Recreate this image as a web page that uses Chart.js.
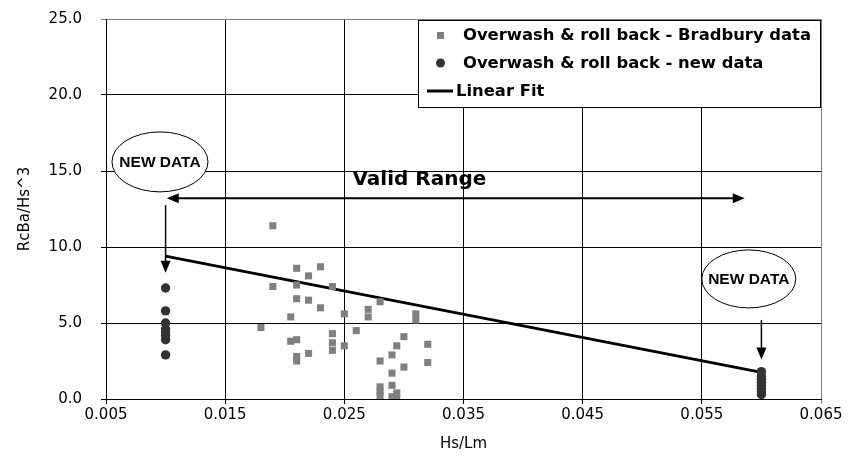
<!DOCTYPE html>
<html lang="en">
<head>
    <meta charset="UTF-8">
    <title>RcBa/Hs^3 vs Hs/Lm</title>
    <style>
        body { margin: 0; padding: 0; background: #fff; }
        .chart-box { width: 849px; height: 470px; position: relative; }
    </style>
</head>
<body>

<div class="chart-box">
  <canvas id="chart"></canvas>
</div>

<script src="https://cdn.jsdelivr.net/npm/chart.js"></script>

<script>
    // Bradbury data (squares)
    const bradX = [0.019, 0.021, 0.023, 0.022, 0.019, 0.021, 0.024, 0.021, 0.022, 0.023,
                   0.0205, 0.025, 0.027, 0.027, 0.028, 0.031, 0.031, 0.018, 0.0205, 0.021,
                   0.024, 0.024, 0.024, 0.025, 0.026, 0.021, 0.021, 0.022, 0.030, 0.0294,
                   0.029, 0.032, 0.032, 0.028, 0.030, 0.029, 0.029, 0.028, 0.028, 0.028,
                   0.029, 0.0294, 0.0294];
    const bradY = [11.4, 8.6, 8.7, 8.1, 7.4, 7.5, 7.4, 6.6, 6.5, 6.0,
                   5.4, 5.6, 5.9, 5.4, 6.4, 5.6, 5.2, 4.7, 3.8, 3.9,
                   4.3, 3.7, 3.2, 3.5, 4.5, 2.8, 2.5, 3.0, 4.1, 3.5,
                   2.9, 3.6, 2.4, 2.5, 2.1, 1.7, 0.9, 0.8, 0.5, 0.2,
                   0.15, 0.4, 0.05];

    // new data (circles)
    const newX = [0.010, 0.010, 0.010, 0.010, 0.010, 0.010, 0.010, 0.010,
                  0.060, 0.060, 0.060, 0.060, 0.060, 0.060, 0.060, 0.060];
    const newY = [7.3, 5.8, 5.0, 4.6, 4.4, 4.2, 3.9, 2.9,
                  1.8, 1.5, 1.3, 1.1, 0.9, 0.7, 0.5, 0.3];

    // linear fit
    const fitX = [0.010, 0.060];
    const fitY = [9.4, 1.75];

    const xTicks = [0.005, 0.015, 0.025, 0.035, 0.045, 0.055, 0.065];
    const yTicks = [0, 5, 10, 15, 20, 25];

    const legendLabels = ['Overwash & roll back - Bradbury data',
                          'Overwash & roll back - new data',
                          'Linear Fit'];

    const toPts = (xs, ys) => xs.map((x, i) => ({x: x, y: ys[i]}));

    function arrowHead(ctx, x, y, dir) {
        // dir: 'l','r','d'
        ctx.beginPath();
        if (dir === 'l') { ctx.moveTo(x, y); ctx.lineTo(x + 12, y - 5); ctx.lineTo(x + 12, y + 5); }
        if (dir === 'r') { ctx.moveTo(x, y); ctx.lineTo(x - 12, y - 5); ctx.lineTo(x - 12, y + 5); }
        if (dir === 'd') { ctx.moveTo(x, y); ctx.lineTo(x - 5, y - 12); ctx.lineTo(x + 5, y - 12); }
        ctx.closePath();
        ctx.fill();
    }

    const notes = {
        id: 'notes',
        afterDraw(chart) {
            const ctx = chart.ctx;
            const xs = chart.scales.x, ys = chart.scales.y;
            ctx.save();
            ctx.strokeStyle = '#000';
            ctx.fillStyle = '#000';

            // valid range double arrow
            const ay = ys.getPixelForValue(13.2);
            const ax1 = xs.getPixelForValue(0.0101), ax2 = xs.getPixelForValue(0.0586);
            ctx.lineWidth = 2;
            ctx.beginPath(); ctx.moveTo(ax1 + 8, ay); ctx.lineTo(ax2 - 8, ay); ctx.stroke();
            arrowHead(ctx, ax1, ay, 'l');
            arrowHead(ctx, ax2, ay, 'r');
            ctx.font = 'bold 20px "DejaVu Sans", sans-serif';
            ctx.textAlign = 'center'; ctx.textBaseline = 'middle';
            ctx.fillText('Valid Range', xs.getPixelForValue(0.0313), ys.getPixelForValue(14.4));

            // NEW DATA callouts
            const callouts = [
                {cx: 0.00953, cy: 15.6, rx: 48, ry: 30, ax: 0.0100, y1: 12.75, y2: 8.3},
                {cx: 0.05894, cy: 7.9, rx: 47, ry: 29, ax: 0.0600, y1: 5.2, y2: 2.6}
            ];
            callouts.forEach(c => {
                const px = xs.getPixelForValue(c.cx), py = ys.getPixelForValue(c.cy);
                ctx.fillStyle = '#fff';
                ctx.lineWidth = 1;
                ctx.beginPath(); ctx.ellipse(px, py, c.rx, c.ry, 0, 0, Math.PI * 2);
                ctx.fill(); ctx.stroke();
                ctx.fillStyle = '#000';
                ctx.font = 'bold 15.5px "Liberation Sans", Arial, sans-serif';
                ctx.fillText('NEW DATA', px, py + 1);
                const lx = xs.getPixelForValue(c.ax);
                const t1 = ys.getPixelForValue(c.y1), t2 = ys.getPixelForValue(c.y2);
                ctx.lineWidth = 1.5;
                ctx.beginPath(); ctx.moveTo(lx, t1); ctx.lineTo(lx, t2 - 10); ctx.stroke();
                arrowHead(ctx, lx, t2, 'd');
            });

            // legend box
            const bx = 418, by = 20, bw = 402, bh = 87;
            ctx.fillStyle = '#fff';
            ctx.fillRect(bx, by, bw, bh);
            ctx.lineWidth = 1;
            ctx.strokeStyle = '#000';
            ctx.strokeRect(bx + 0.5, by + 0.5, bw, bh);
            ctx.font = 'bold 16.4px "DejaVu Sans", sans-serif';
            ctx.textAlign = 'left';
            ctx.fillStyle = '#808080';
            ctx.fillRect(437, 32, 7, 7);
            ctx.fillStyle = '#333';
            ctx.beginPath(); ctx.arc(440.5, 63, 4.5, 0, Math.PI * 2); ctx.fill();
            ctx.strokeStyle = '#000'; ctx.lineWidth = 3;
            ctx.beginPath(); ctx.moveTo(427, 91); ctx.lineTo(453, 91); ctx.stroke();
            ctx.fillStyle = '#000';
            ctx.fillText(legendLabels[0], 463, 36);
            ctx.fillText(legendLabels[1], 463, 64);
            ctx.fillText(legendLabels[2], 456, 92);
            ctx.restore();
        }
    };

    const axisFont = { family: '"DejaVu Sans", sans-serif', size: 15 };

    const ctx = document.getElementById('chart').getContext('2d');
    const chart = new Chart(ctx, {
        type: 'scatter',
        data: {
            datasets: [
                {
                    label: legendLabels[0],
                    data: toPts(bradX, bradY),
                    pointStyle: 'rect',
                    pointRadius: 5,
                    backgroundColor: '#808080',
                    borderColor: '#808080',
                    borderWidth: 0
                },
                {
                    label: legendLabels[1],
                    data: toPts(newX, newY),
                    pointStyle: 'circle',
                    pointRadius: 4.7,
                    backgroundColor: '#333333',
                    borderColor: '#333333',
                    borderWidth: 0
                },
                {
                    label: legendLabels[2],
                    type: 'line',
                    data: toPts(fitX, fitY),
                    borderColor: '#000',
                    borderWidth: 3,
                    pointRadius: 0,
                    fill: false
                }
            ]
        },
        options: {
            responsive: true,
            maintainAspectRatio: false,
            animation: false,
            layout: { padding: { left: 0, right: 28, top: 19, bottom: 0 } },
            plugins: {
                legend: { display: false },
                tooltip: { enabled: false }
            },
            scales: {
                x: {
                    type: 'linear',
                    min: 0.005,
                    max: 0.065,
                    afterBuildTicks: s => { s.ticks = xTicks.map(v => ({value: v})); },
                    afterFit: s => { s.height = 71; s.paddingLeft = 0; s.paddingRight = 0; },
                    grid: {
                        color: c => c.tick.value >= 0.065 ? '#808080' : '#000',
                        lineWidth: 1,
                        tickLength: 5,
                        drawTicks: true
                    },
                    border: { color: '#000', width: 1 },
                    ticks: {
                        color: '#000',
                        font: axisFont,
                        padding: 2,
                        maxRotation: 0,
                        callback: v => Number(v).toFixed(3)
                    },
                    title: {
                        display: true,
                        text: 'Hs/Lm',
                        color: '#000',
                        font: axisFont,
                        padding: { top: 4, bottom: 17 }
                    }
                },
                y: {
                    min: 0,
                    max: 25,
                    afterBuildTicks: s => { s.ticks = yTicks.map(v => ({value: v})); },
                    afterFit: s => { s.width = 106; s.paddingTop = 0; s.paddingBottom = 0; },
                    grid: {
                        color: c => c.tick.value >= 25 ? '#808080' : '#000',
                        lineWidth: 1,
                        tickLength: 5
                    },
                    border: { color: '#000', width: 1 },
                    ticks: {
                        color: '#000',
                        font: axisFont,
                        padding: 19,
                        callback: v => Number(v).toFixed(1)
                    },
                    title: {
                        display: true,
                        text: 'RcBa/Hs^3',
                        color: '#000',
                        font: axisFont,
                        padding: { top: 16, bottom: 0 }
                    }
                }
            }
        },
        plugins: [notes]
    });
</script>

</body>
</html>
